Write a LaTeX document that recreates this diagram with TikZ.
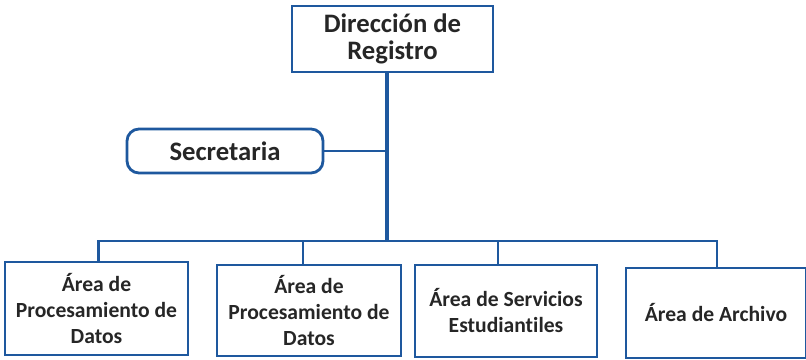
\documentclass[tikz,border=0pt]{standalone}
\usepackage{fontspec}
\setmainfont{Carlito}[Ligatures={NoCommon}]
\usepackage{tikz}
\usetikzlibrary{positioning}
\definecolor{orgblue}{RGB}{30,88,158}
\definecolor{inkgray}{RGB}{38,38,38}
\tikzstyle{office} = [draw=orgblue, line width=2.1pt, fill=white, text=inkgray, align=center, font=\bfseries\fontsize{20}{20}\selectfont]
\tikzstyle{area} = [draw=orgblue, line width=2.1pt, fill=white, text=inkgray, align=center, font=\bfseries\fontsize{16.2}{19.5}\selectfont]
\tikzset{
  link/.style ={draw, orgblue, line width=2pt},
  stem/.style ={draw, orgblue, line width=3.2pt}
}

\begin{document}
\begin{tikzpicture}[x=0.75pt,y=-0.75pt]
  \useasboundingbox (0,0) rectangle (806,360);

  \node[office,minimum width=150.75pt,minimum height=49.5pt] (dir) at (392.5,39) {Dirección de\\Registro};
  \node[office,rounded corners=9pt,minimum width=147pt,minimum height=33pt] (sec) at (225,151) {Secretaria};
  \coordinate (bus) at (387,241);

  \node[area,minimum width=137.25pt,minimum height=69.75pt] (proc1) at (96.5,308.5) {Área de\\Procesamiento de\\Datos};
  \node[area,minimum width=138pt,minimum height=68.25pt] (proc2) at (309,310.5) {Área de\\Procesamiento de\\Datos};
  \node[area,minimum width=136.5pt,minimum height=69pt] (serv) at (506,311) {Área de Servicios\\Estudiantiles};
  \node[area,minimum width=135pt,minimum height=67.5pt] (arch) at (716,313) {Área de Archivo};

  \begin{scope}[every path/.style=link]
    \path (sec.east) -- (sec.east -| bus);
    \path ([xshift=1.5pt]proc1.north) |- (bus) -| ([xshift=0.75pt]arch.north);
    \path ([xshift=-4.5pt]proc2.north) -- ([xshift=-4.5pt]proc2.north |- bus);
    \path ([xshift=-6pt]serv.north) -- ([xshift=-6pt]serv.north |- bus);
  \end{scope}
  \path[stem] (bus |- dir.south) -- ([yshift=-0.75pt]bus);

\end{tikzpicture}
\end{document}
